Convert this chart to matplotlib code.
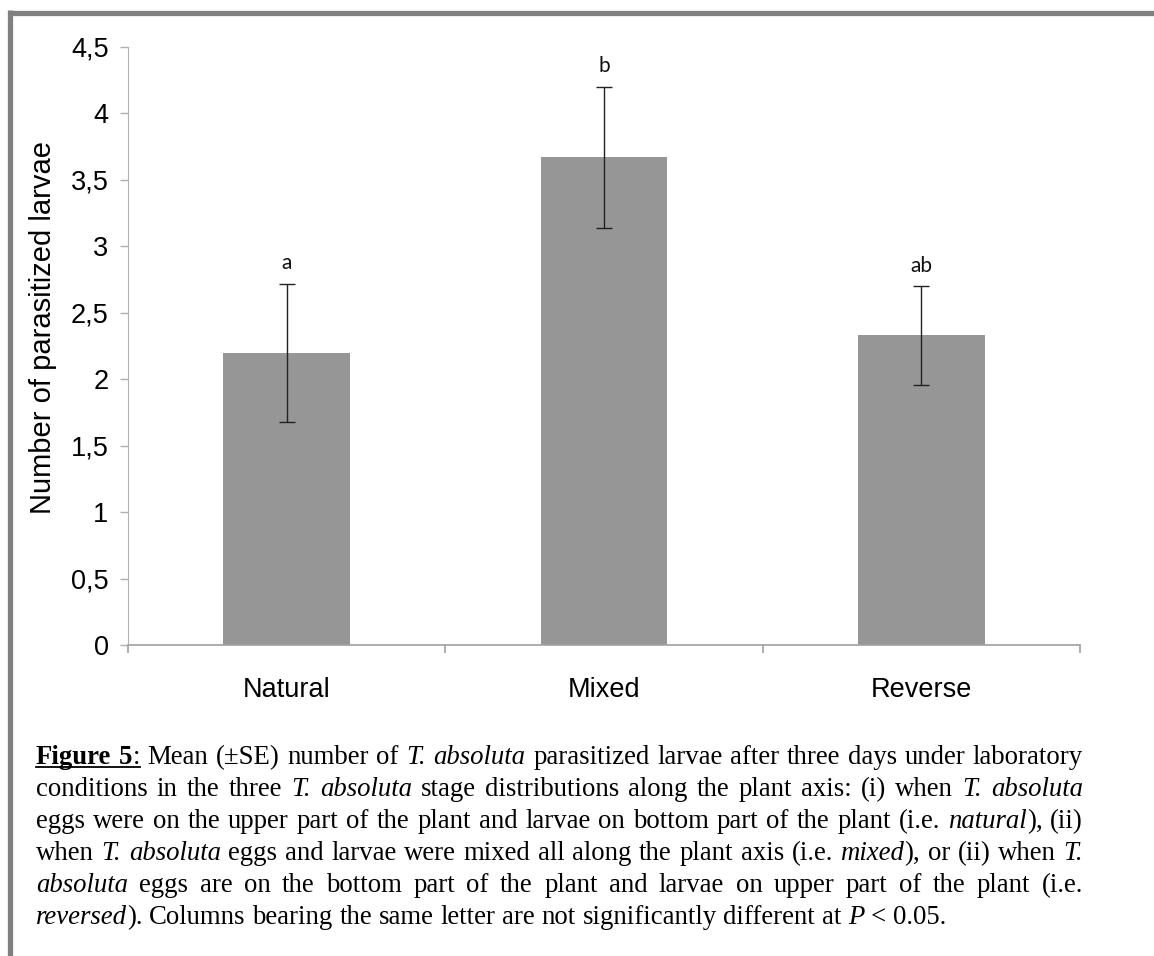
import numpy as np
import matplotlib
matplotlib.use('Agg')
import matplotlib.pyplot as plt
from matplotlib.lines import Line2D
from matplotlib.ticker import FuncFormatter, FixedLocator


# data
categories = ['Natural', 'Mixed', 'Reverse']
means = [2.20, 3.67, 2.33]
se = [0.52, 0.53, 0.37]
letters = ['a', 'b', 'ab']
yticks = [0, 0.5, 1, 1.5, 2, 2.5, 3, 3.5, 4, 4.5]

caption = [
    '**Figure 5**: Mean (±SE) number of *T. absoluta* parasitized larvae after three days under laboratory',
    'conditions in the three *T. absoluta* stage distributions along the plant axis: (i) when *T. absoluta*',
    'eggs were on the upper part of the plant and larvae on bottom part of the plant (i.e. *natural*), (ii)',
    'when *T. absoluta* eggs and larvae were mixed all along the plant axis (i.e. *mixed*), or (ii) when *T.*',
    '*absoluta* eggs are on the bottom part of the plant and larvae on upper part of the plant (i.e.',
    '*reversed*). Columns bearing the same letter are not significantly different at *P* < 0.05.',
]

W, H = 1154, 956
fig = plt.figure(figsize=(W/100, H/100), dpi=100)

# ---- chart ----
ax = fig.add_axes([128/W, 1-645/H, (1080-128)/W, (645-47)/H])
x = np.arange(len(categories))
ax.bar(x, means, width=0.4, color='#969696', zorder=2)
ax.errorbar(x, means, yerr=se, fmt='none', ecolor='#222222', elinewidth=1.0,
            capsize=6, capthick=1.0, zorder=3)
for xi, m, s, l in zip(x, means, se, letters):
    ax.text(xi, m+s+0.08, l, ha='center', va='bottom',
            fontsize=15, family='Lato', color='#111111')

ax.set_xlim(-0.5, 2.5)
ax.set_ylim(0, 4.5)
ax.set_yticks(yticks)
ax.yaxis.set_major_formatter(FuncFormatter(lambda v, p: ('%g' % v).replace('.', ',')))
ax.set_xticks(x)
ax.set_xticklabels(categories)
ax.xaxis.set_minor_locator(FixedLocator([-0.5, 0.5, 1.5, 2.5]))
ax.tick_params(axis='x', which='major', length=0, pad=23)
ax.tick_params(axis='x', which='minor', length=6, color='#a0a0a0', width=1.2)
ax.tick_params(axis='y', length=6, color='#b0b0b0', width=1.0, pad=8)
for lab in ax.get_xticklabels() + ax.get_yticklabels():
    lab.set_family('Liberation Sans')
    lab.set_fontsize(19.5)
for side in ['top', 'right']:
    ax.spines[side].set_visible(False)
ax.spines['left'].set_color('#b0b0b0')
ax.spines['bottom'].set_color('#a0a0a0')
ax.spines['bottom'].set_linewidth(1.2)

fig.text(43/W, 1-327/H, 'Number of parasitized larvae', rotation=90, ha='center', va='center',
         fontsize=21, family='Liberation Sans')

# ---- page border ----
fig.add_artist(Line2D([9.5/W, 1], [1-12.5/H, 1-12.5/H], color='#808080', lw=3.8,
                      transform=fig.transFigure, solid_capstyle='butt'))
fig.add_artist(Line2D([9.5/W, 9.5/W], [0, 1-10/H], color='#808080', lw=3.8,
                      transform=fig.transFigure, solid_capstyle='butt'))

# ---- caption, justified ----
renderer = fig.canvas.get_renderer()
fs = 19.3
x0, x1 = 36, 1083
base0, lead = 764, 32


def parse(line):
    # split markup into words, each word a list of (text, style)
    runs = []
    i, mode = 0, 'n'
    buf = ''
    while i < len(line):
        if line.startswith('**', i):
            runs.append((buf, mode)); buf = ''
            mode = 'b' if mode != 'b' else 'n'
            i += 2
        elif line[i] == '*':
            runs.append((buf, mode)); buf = ''
            mode = 'i' if mode != 'i' else 'n'
            i += 1
        else:
            buf += line[i]; i += 1
    runs.append((buf, mode))
    words, cur = [], []
    for txt, m in runs:
        parts = txt.split(' ')
        for k, p in enumerate(parts):
            if k > 0:
                if cur:
                    words.append(cur)
                cur = []
            if p:
                cur.append((p, m))
    if cur:
        words.append(cur)
    return words


def kw(m):
    return dict(fontsize=fs, family='Liberation Serif',
                style='italic' if m == 'i' else 'normal',
                weight='bold' if m == 'b' else 'normal')


def width(txt, m):
    t = fig.text(0, 0, txt, **kw(m))
    w = t.get_window_extent(renderer).width
    t.remove()
    return w


space = width('a a', 'n') - 2*width('a', 'n')
ul_end = None
for li, line in enumerate(caption):
    words = parse(line)
    ws = [sum(width(p, m) for p, m in wd) for wd in words]
    if li < len(caption)-1:
        gap = (x1-x0-sum(ws))/(len(words)-1)
    else:
        gap = space
    yb = base0 + li*lead
    xc = x0
    for wd in words:
        for p, m in wd:
            pw = width(p, m)
            fig.text(xc/W, 1-yb/H, p, ha='left', va='baseline', **kw(m))
            if li == 0 and ul_end is None and p == ':':
                ul_end = xc + pw
            xc += pw
        xc += gap

# underline of "Figure 5:"
fig.add_artist(Line2D([x0/W, ul_end/W], [1-(base0+3)/H, 1-(base0+3)/H],
                      color='black', lw=1.3, transform=fig.transFigure))

fig.savefig('out.png', dpi=100)
